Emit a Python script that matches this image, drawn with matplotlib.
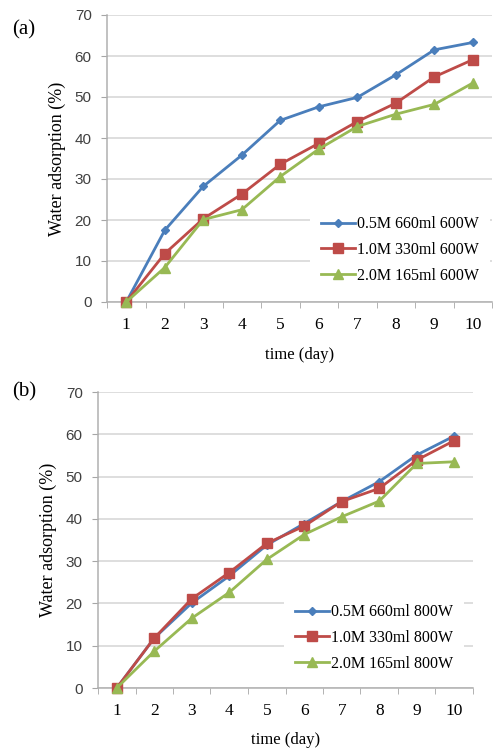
import matplotlib
matplotlib.use("Agg")
import matplotlib.pyplot as plt
import numpy as np

days = [1, 2, 3, 4, 5, 6, 7, 8, 9, 10]
y_ticks = [0, 10, 20, 30, 40, 50, 60, 70]

labels_a = ["0.5M 660ml 600W", "1.0M 330ml 600W", "2.0M 165ml 600W"]
blue_a = [0, 17.5, 28.2, 35.8, 44.3, 47.6, 49.9, 55.4, 61.5, 63.3]
red_a = [0, 11.8, 20.3, 26.3, 33.6, 38.7, 44.0, 48.5, 54.9, 59.1]
green_a = [0, 8.4, 20.1, 22.5, 30.6, 37.3, 42.8, 45.8, 48.2, 53.4]

labels_b = ["0.5M 660ml 800W", "1.0M 330ml 800W", "2.0M 165ml 800W"]
blue_b = [0, 11.8, 20.1, 26.5, 33.8, 38.9, 44.1, 48.8, 55.1, 59.6]
red_b = [0, 11.8, 21.1, 27.3, 34.2, 38.3, 44.1, 47.2, 53.9, 58.5]
green_b = [0, 8.7, 16.5, 22.6, 30.4, 36.3, 40.5, 44.2, 53.1, 53.5]

colors = ["#4A7EBB", "#BE4B48", "#98B954"]
markers = ["D", "s", "^"]
msizes = [4.5, 7, 7]

W, H = 495, 749
fig = plt.figure(figsize=(W / 100, H / 100), dpi=100)

serif = ["Liberation Serif", "DejaVu Serif"]
sans = ["Liberation Sans", "DejaVu Sans"]


def px_rect(left, right, top, bottom):
    return [left / W, 1 - bottom / H, (right - left) / W, (bottom - top) / H]


def panel(rect, series, labels, tag, tag_xy, leg_xy, xlabel_y):
    ax = fig.add_axes(px_rect(*rect))
    for vals, c, m, ms, lab in zip(series, colors, markers, msizes, labels):
        ax.plot(days, vals, color=c, marker=m, markersize=ms, lw=2,
                label=lab, zorder=3, clip_on=False)
    ax.set_xlim(0.5, 10.5)
    ax.set_ylim(0, 70)
    ax.set_yticks(y_ticks)
    ax.set_yticklabels([str(v) for v in y_ticks], family=sans, fontsize=11,
                       color="#404040")
    ax.set_xticks(days)
    ax.set_xticklabels([str(d) for d in days], family=serif, fontsize=12.5)
    ax.set_xticks(np.arange(0.5, 11, 1), minor=True)
    ax.tick_params(axis="x", which="major", length=0, pad=11)
    ax.tick_params(axis="x", which="minor", length=4, color="#a6a6a6",
                   direction="out")
    ax.tick_params(axis="y", length=4, color="#a6a6a6", pad=7)
    ax.grid(axis="y", color="#d4d4d4", lw=1.1, zorder=0)
    ax.set_axisbelow(True)
    for s in ["top", "right"]:
        ax.spines[s].set_visible(False)
    for s in ["left", "bottom"]:
        ax.spines[s].set_color("#b0b0b0")
        ax.spines[s].set_linewidth(1.1)
    ax.set_ylabel("Water adsorption (%)", family=serif, fontsize=13,
                  labelpad=6)
    fig.text(ax.get_position().x0 + ax.get_position().width / 2,
             1 - xlabel_y / H, "time (day)", family=serif, fontsize=12,
             ha="center", va="center")
    fig.text(tag_xy[0] / W, 1 - tag_xy[1] / H, tag, family=serif,
             fontsize=15, ha="left", va="center")
    leg = ax.legend(loc="center left",
                    bbox_to_anchor=(leg_xy[0] / W, 1 - leg_xy[1] / H),
                    bbox_transform=fig.transFigure, frameon=True,
                    facecolor="white", edgecolor="none", fancybox=False,
                    framealpha=1, prop={"family": serif, "size": 11.5},
                    handlelength=2.1, handletextpad=0.15, labelspacing=0.6,
                    borderpad=0.7, borderaxespad=0)
    leg.set_zorder(5)
    return ax


panel((107, 492, 15, 302), [blue_a, red_a, green_a], labels_a, "(a)",
      (12, 30), (310, 250), 355)
panel((98, 473, 392, 688), [blue_b, red_b, green_b], labels_b, "(b)",
      (12, 392), (284, 638), 740)

fig.savefig("out.png", dpi=100)
